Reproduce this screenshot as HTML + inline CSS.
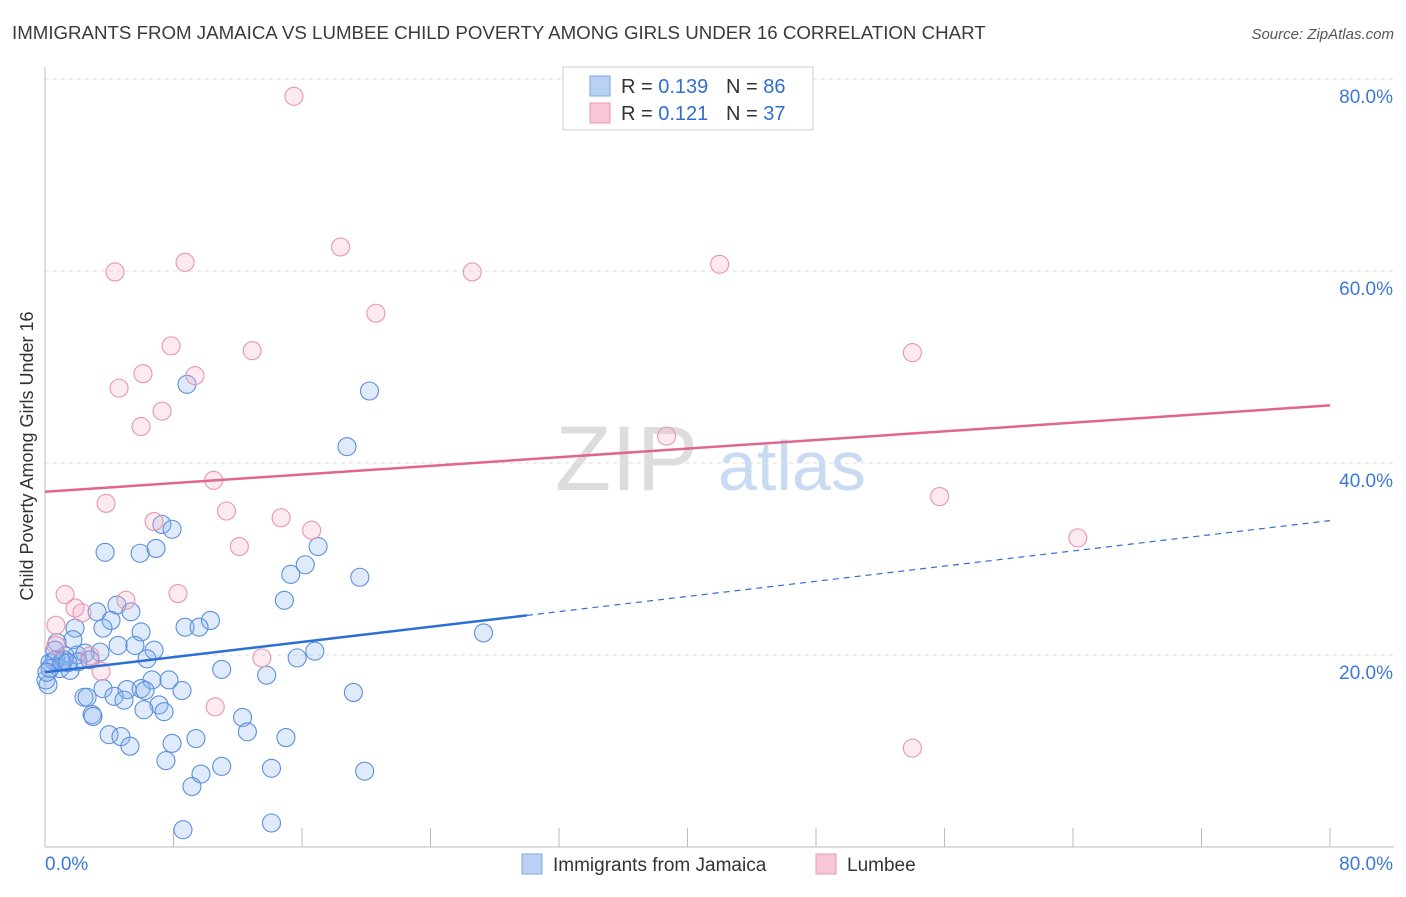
<!DOCTYPE html>
<html><head><meta charset="utf-8">
<style>
body{margin:0;background:#fff;font-family:"Liberation Sans",sans-serif;}
svg text{font-family:"Liberation Sans",sans-serif;}
</style></head>
<body>
<svg id="chart" width="1406" height="892">
<text x="12" y="39" font-size="18.7" fill="#3a3a3a">IMMIGRANTS FROM JAMAICA VS LUMBEE CHILD POVERTY AMONG GIRLS UNDER 16 CORRELATION CHART</text>
<text x="1394" y="39" font-size="15" fill="#555" font-style="italic" text-anchor="end">Source: ZipAtlas.com</text>
<text x="33" y="456" font-size="18" fill="#333" text-anchor="middle" transform="rotate(-90 33 456)">Child Poverty Among Girls Under 16</text>
<g>
<text x="555" y="490" font-size="92" fill="#ddd" font-family="Liberation Serif">ZIP</text>
<text x="718" y="490" font-size="70" fill="#c9daf3">atlas</text>
</g>
<g id="grid"></g>
<g id="axes"></g>
<g id="marks"></g>
<g>
<rect x="563" y="67" width="250" height="63" fill="#fff" stroke="#ccc"/>
<rect x="590" y="76" width="20" height="20" fill="#b9d2f3" stroke="#7fa7e0"/>
<text x="621" y="93" font-size="20" fill="#333">R = <tspan fill="#2f6fd0">0.139</tspan></text>
<text x="726" y="93" font-size="20" fill="#333">N = <tspan fill="#2f6fd0">86</tspan></text>
<rect x="590" y="103" width="20" height="20" fill="#f9c6d6" stroke="#eb9ab4"/>
<text x="621" y="120" font-size="20" fill="#333">R =  <tspan fill="#2f6fd0">0.121</tspan></text>
<text x="726" y="120" font-size="20" fill="#333">N =  <tspan fill="#2f6fd0">37</tspan></text>
</g>
<g>
<rect x="522" y="854" width="20" height="20" fill="#b9d2f3" stroke="#7fa7e0"/>
<text x="553" y="871" font-size="19" fill="#333">Immigrants from Jamaica</text>
<rect x="816" y="854" width="20" height="20" fill="#f9c6d6" stroke="#eb9ab4"/>
<text x="847" y="871" font-size="19" fill="#333">Lumbee</text>
</g>
</svg>
<script>
const jamX=[8.84,20.2,18.8,3.74,5.92,6.91,7.28,7.91,17.0,15.3,16.2,19.6,14.9,4.48,5.35,3.24,4.11,10.3,8.72,9.59,5.98,3.61,1.87,1.74,4.55,5.60,6.79,3.42,1.99,1.25,2.49,0.68,0.31,0.93,1.56,0.06,0.19,6.35,11.0,15.7,16.8,27.3,13.8,8.53,7.72,6.66,5.11,5.98,6.23,3.61,2.43,2.62,4.30,4.92,7.10,6.16,7.41,2.93,2.99,12.3,19.2,3.99,4.73,5.29,7.91,9.40,12.6,15.0,7.53,11.0,9.71,14.1,19.9,9.15,8.59,14.1,0.75,1.18,2.80,0.56,0.31,1.06,2.05,0.12,1.43,0.62];
const jamY=[48.2,47.5,41.7,30.7,30.6,31.1,33.6,33.1,31.3,28.4,29.4,28.1,25.7,25.2,24.5,24.5,23.6,23.6,22.9,22.9,22.4,22.8,22.8,21.6,21.0,21.0,20.5,20.3,20.0,19.9,20.2,19.5,19.2,18.6,18.4,17.4,16.9,19.6,18.5,19.7,20.4,22.3,17.9,16.3,17.4,17.4,16.4,16.5,16.3,16.5,15.6,15.6,15.7,15.3,14.8,14.3,14.1,13.8,13.6,13.5,16.1,11.7,11.5,10.5,10.8,11.3,12.0,11.4,9.0,8.4,7.6,8.2,7.9,6.3,1.8,2.5,21.3,19.5,19.5,19.4,18.6,19.3,19.3,18.2,19.2,20.5];
const lumX=[15.5,4.36,8.72,18.4,26.6,42.0,20.6,7.85,12.9,6.10,9.34,4.61,7.29,5.98,54.0,38.7,10.5,3.80,55.7,11.3,6.79,14.7,16.6,12.1,64.3,1.25,8.28,5.04,1.87,2.30,0.68,0.68,2.80,3.49,13.5,10.6,54.0];
const lumY=[78.2,59.9,60.9,62.5,59.9,60.7,55.6,52.2,51.7,49.3,49.1,47.8,45.4,43.8,51.5,42.8,38.2,35.8,36.5,35.0,33.9,34.3,33.0,31.3,32.2,26.3,26.4,25.7,24.9,24.4,23.1,21.0,19.9,18.3,19.7,14.6,10.3];
const yTicks=[20,40,60,80];
const jamTrend=[18.2,34.0];
const lumTrend=[37.0,46.0];
const jamSolidEnd=30;

const NS="http://www.w3.org/2000/svg";
const X0=45,X1=1330,Y0=847,Y1=79;
function sx(v){return X0+(v/80)*(X1-X0);}
function sy(v){return Y0-(v/80)*(Y0-Y1);}
function mk(t,a,p){const e=document.createElementNS(NS,t);for(const k in a)e.setAttribute(k,a[k]);p.appendChild(e);return e;}
const grid=document.getElementById('grid'),axes=document.getElementById('axes'),marks=document.getElementById('marks');
yTicks.forEach(v=>{
  const l=mk('line',{x1:X0,x2:1394,y1:sy(v),y2:sy(v),stroke:'#ddd','stroke-dasharray':'4,4'},grid);
  
  
  const t=mk('text',{x:1393,y:sy(v)+24,'font-size':19,fill:'#3b78d8','text-anchor':'end'},grid);
  t.textContent=v.toFixed(1)+'%';
  
  
});
const ax=mk('line',{x1:X0,x2:X0,y1:67,y2:Y0,stroke:'#bbb'},axes);


const bx=mk('line',{x1:X0,x2:1394,y1:Y0,y2:Y0,stroke:'#bbb'},axes);


const tickStep=(X1-X0)/10;
for(let i=0;i<=10;i++){
  const tk=mk('line',{x1:X0+i*tickStep,x2:X0+i*tickStep,y1:828,y2:Y0,stroke:'#bbb'},axes);
  
  
}
const xl=mk('text',{x:45,y:870,'font-size':19,fill:'#3b78d8'},axes);xl.textContent='0.0%';


const xr=mk('text',{x:1393,y:870,'font-size':19,fill:'#3b78d8','text-anchor':'end'},axes);xr.textContent='80.0%';



jamX.forEach((v,i)=>{
  const c=mk('circle',{cx:sx(v),cy:sy(jamY[i]),r:9,fill:'rgba(140,180,240,0.28)',stroke:'#5b8fdb','stroke-width':1.1},marks);
  
  
});
lumX.forEach((v,i)=>{
  const c=mk('circle',{cx:sx(v),cy:sy(lumY[i]),r:9,fill:'rgba(248,175,200,0.28)',stroke:'#e895b1','stroke-width':1.1},marks);
  
  
});
function tv(tr,x){return tr[0]+(tr[1]-tr[0])*x/80;}
const lt=mk('line',{x1:sx(0),y1:sy(lumTrend[0]),x2:sx(80),y2:sy(lumTrend[1]),stroke:'#e0668f','stroke-width':2.5},marks);


const js=mk('line',{x1:sx(0),y1:sy(jamTrend[0]),x2:sx(jamSolidEnd),y2:sy(tv(jamTrend,jamSolidEnd)),stroke:'#2b6fd6','stroke-width':2.5},marks);


const jd=mk('line',{x1:sx(jamSolidEnd),y1:sy(tv(jamTrend,jamSolidEnd)),x2:sx(80),y2:sy(jamTrend[1]),stroke:'#2b6fd6','stroke-width':1.2,'stroke-dasharray':'6,5'},marks);


</script>
</body></html>
